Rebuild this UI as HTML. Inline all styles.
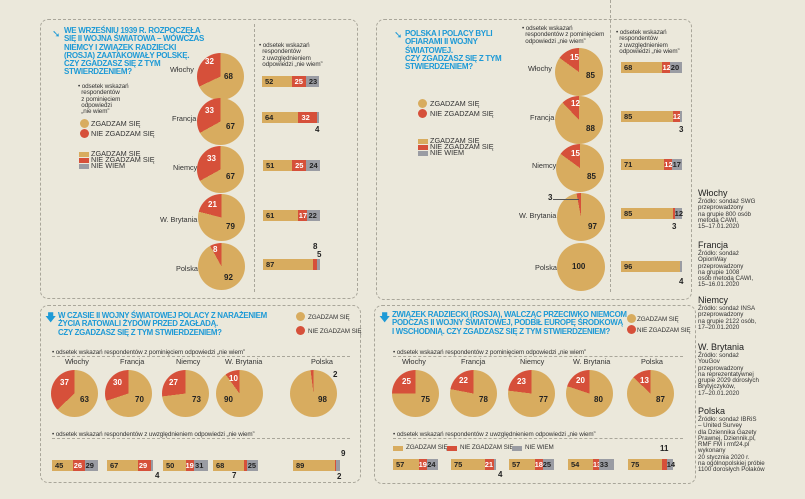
<!DOCTYPE html>
<html><head><meta charset="utf-8"><style>
body{margin:0;width:805px;height:499px;background:#ebe8db;position:relative;overflow:hidden;font-family:"Liberation Sans",sans-serif;color:#222}
.p{position:absolute;border:1px dashed #a9a69a;border-radius:8px}
.a{position:absolute;white-space:nowrap}
.t{position:absolute;color:#1e9ad6;font-weight:bold;font-size:8px;letter-spacing:-0.3px;line-height:8.3px}
.pie{position:absolute;border-radius:50%;background:conic-gradient(#d8ac5f 0 calc(100% - var(--r)),#d6503a 0)}
.w{color:#fff;font-weight:bold;font-size:8px}
.k{font-weight:bold;font-size:8px}
.s{font-size:6.3px;line-height:6.3px;color:#333;letter-spacing:-0.1px}
.c{font-size:7.3px;color:#333}
.bar{position:absolute;display:flex;height:11px;font-weight:bold;font-size:7.5px;line-height:11px}
.bar div{padding-left:3px;box-sizing:border-box;white-space:nowrap}
.g{background:#d8ac5f}.r{background:#d6503a;color:#fff}.y{background:#9a9ca3}
.dot{position:absolute;width:9px;height:9px;border-radius:50%}
.sq{position:absolute;width:10px;height:5px}
.src{position:absolute;left:698px;font-size:6.2px;line-height:6.3px;color:#333}
.src b{display:block;font-size:9px;font-weight:normal;line-height:11px;color:#222}
</style></head><body>
<!-- Panel 1 -->
<div class="p" style="left:40px;top:19px;width:316px;height:278px"></div>
<div class="a" style="left:254px;top:24px;height:268px;border-left:1px dashed #a9a69a"></div>
<div class="a" style="left:52px;top:29px;color:#1e9ad6;font-size:10px">➘</div>
<div class="t" style="left:64px;top:27px">WE WRZEŚNIU 1939 R. ROZPOCZĘŁA<br>SIĘ II WOJNA ŚWIATOWA – WÓWCZAS<br>NIEMCY I ZWIĄZEK RADZIECKI<br>(ROSJA) ZAATAKOWAŁY POLSKĘ.<br>CZY ZGADZASZ SIĘ Z TYM<br>STWIERDZENIEM?</div>
<div class="a s" style="left:78px;top:84px">• odsetek wskazań<br>&nbsp;&nbsp;respondentów<br>&nbsp;&nbsp;z pominięciem<br>&nbsp;&nbsp;odpowiedzi<br>&nbsp;&nbsp;„nie wiem”</div>
<div class="dot" style="left:80px;top:119px;background:#d8ac5f"></div><div class="a c" style="left:91px;top:119px">ZGADZAM SIĘ</div>
<div class="dot" style="left:80px;top:129px;background:#d6503a"></div><div class="a c" style="left:91px;top:129px">NIE ZGADZAM SIĘ</div>
<div class="sq" style="left:79px;top:152px;background:#d8ac5f"></div><div class="a c" style="left:91px;top:149px">ZGADZAM SIĘ</div>
<div class="sq" style="left:79px;top:158px;background:#d6503a"></div><div class="a c" style="left:91px;top:155px">NIE ZGADZAM SIĘ</div>
<div class="sq" style="left:79px;top:164px;background:#9a9ca3"></div><div class="a c" style="left:91px;top:161px">NIE WIEM</div>
<div class="a s" style="left:259px;top:43px">• odsetek wskazań<br>&nbsp;&nbsp;respondentów<br>&nbsp;&nbsp;z uwzględnieniem<br>&nbsp;&nbsp;odpowiedzi „nie wiem”</div>
<div class="pie" style="left:197px;top:53px;width:47px;height:47px;--r:32%"></div><div class="a w" style="left:205px;top:57px">32</div><div class="a k" style="left:224px;top:72px">68</div><div class="a c" style="left:170px;top:65px">Włochy</div>
<div class="pie" style="left:197px;top:98px;width:47px;height:47px;--r:33%"></div><div class="a w" style="left:205px;top:106px">33</div><div class="a k" style="left:226px;top:122px">67</div><div class="a c" style="left:172px;top:114px">Francja</div>
<div class="pie" style="left:197px;top:146px;width:47px;height:47px;--r:33%"></div><div class="a w" style="left:207px;top:154px">33</div><div class="a k" style="left:226px;top:172px">67</div><div class="a c" style="left:173px;top:163px">Niemcy</div>
<div class="pie" style="left:198px;top:194px;width:47px;height:47px;--r:21%"></div><div class="a w" style="left:208px;top:200px">21</div><div class="a k" style="left:226px;top:222px">79</div><div class="a c" style="left:160px;top:215px">W. Brytania</div>
<div class="pie" style="left:198px;top:243px;width:47px;height:47px;--r:8%"></div><div class="a w" style="left:213px;top:245px">8</div><div class="a k" style="left:224px;top:273px">92</div><div class="a c" style="left:176px;top:264px">Polska</div>
<div class="bar" style="left:262px;top:76px;width:57px"><div class="g" style="width:52%">52</div><div class="r" style="width:25%">25</div><div class="y" style="width:23%">23</div></div>
<div class="bar" style="left:262px;top:112px;width:57px"><div class="g" style="width:64%">64</div><div class="r" style="width:32%">32</div><div class="y" style="width:4%;padding:0"></div></div><div class="a k" style="left:315px;top:125px">4</div>
<div class="bar" style="left:263px;top:160px;width:57px"><div class="g" style="width:51%">51</div><div class="r" style="width:25%">25</div><div class="y" style="width:24%">24</div></div>
<div class="bar" style="left:263px;top:210px;width:57px"><div class="g" style="width:61%">61</div><div class="r" style="width:17%;padding-left:1px">17</div><div class="y" style="width:22%;padding-left:1px">22</div></div>
<div class="bar" style="left:263px;top:259px;width:57px"><div class="g" style="width:87%">87</div><div class="r" style="width:8%;padding:0"></div><div class="y" style="width:5%;padding:0"></div></div><div class="a k" style="left:313px;top:242px">8</div><div class="a k" style="left:317px;top:250px">5</div>
<!-- Panel 2 -->
<div class="p" style="left:376px;top:19px;width:314px;height:279px"></div>
<div class="a" style="left:610px;top:0px;height:292px;border-left:1px dashed #a9a69a"></div>
<div class="a" style="left:394px;top:30px;color:#1e9ad6;font-size:10px">➘</div>
<div class="t" style="left:405px;top:30px">POLSKA I POLACY BYLI<br>OFIARAMI II WOJNY<br>ŚWIATOWEJ.<br>CZY ZGADZASZ SIĘ Z TYM<br>STWIERDZENIEM?</div>
<div class="a s" style="left:522px;top:26px">• odsetek wskazań<br>&nbsp;&nbsp;respondentów z pominięciem<br>&nbsp;&nbsp;odpowiedzi „nie wiem”</div>
<div class="a s" style="left:616px;top:30px">• odsetek wskazań<br>&nbsp;&nbsp;respondentów<br>&nbsp;&nbsp;z uwzględnieniem<br>&nbsp;&nbsp;odpowiedzi „nie wiem”</div>
<div class="dot" style="left:418px;top:99px;background:#d8ac5f"></div><div class="a c" style="left:430px;top:99px">ZGADZAM SIĘ</div>
<div class="dot" style="left:418px;top:109px;background:#d6503a"></div><div class="a c" style="left:430px;top:109px">NIE ZGADZAM SIĘ</div>
<div class="sq" style="left:418px;top:139px;background:#d8ac5f"></div><div class="a c" style="left:430px;top:136px">ZGADZAM SIĘ</div>
<div class="sq" style="left:418px;top:145px;background:#d6503a"></div><div class="a c" style="left:430px;top:142px">NIE ZGADZAM SIĘ</div>
<div class="sq" style="left:418px;top:151px;background:#9a9ca3"></div><div class="a c" style="left:430px;top:148px">NIE WIEM</div>
<div class="pie" style="left:555px;top:48px;width:48px;height:48px;--r:15%"></div><div class="a w" style="left:570px;top:53px">15</div><div class="a k" style="left:586px;top:71px">85</div><div class="a c" style="left:528px;top:64px">Włochy</div>
<div class="pie" style="left:555px;top:96px;width:48px;height:48px;--r:12%"></div><div class="a w" style="left:571px;top:99px">12</div><div class="a k" style="left:586px;top:124px">88</div><div class="a c" style="left:530px;top:113px">Francja</div>
<div class="pie" style="left:556px;top:144px;width:48px;height:48px;--r:15%"></div><div class="a w" style="left:571px;top:149px">15</div><div class="a k" style="left:587px;top:172px">85</div><div class="a c" style="left:532px;top:161px">Niemcy</div>
<div class="pie" style="left:557px;top:193px;width:48px;height:48px;--r:3%"></div><div class="a k" style="left:548px;top:193px">3</div><div class="a" style="left:553px;top:199px;width:26px;border-top:1px solid #555"></div><div class="a k" style="left:588px;top:222px">97</div><div class="a c" style="left:519px;top:211px">W. Brytania</div>
<div class="pie" style="left:557px;top:243px;width:48px;height:48px;--r:0%"></div><div class="a k" style="left:572px;top:262px">100</div><div class="a c" style="left:535px;top:263px">Polska</div>
<div class="bar" style="left:621px;top:62px;width:61px"><div class="g" style="width:68%">68</div><div class="r" style="width:12%;padding-left:0">12</div><div class="y" style="width:20%;padding-left:1px">20</div></div>
<div class="bar" style="left:621px;top:111px;width:61px"><div class="g" style="width:85%">85</div><div class="r" style="width:12%;padding-left:0">12</div><div class="y" style="width:3%;padding:0"></div></div><div class="a k" style="left:679px;top:125px">3</div>
<div class="bar" style="left:621px;top:159px;width:61px"><div class="g" style="width:71%">71</div><div class="r" style="width:12%;padding-left:0">12</div><div class="y" style="width:17%;padding-left:1px">17</div></div>
<div class="bar" style="left:621px;top:208px;width:61px"><div class="g" style="width:85%">85</div><div class="r" style="width:3%;padding:0"></div><div class="y" style="width:12%;padding-left:0">12</div></div><div class="a k" style="left:672px;top:222px">3</div>
<div class="bar" style="left:621px;top:261px;width:61px"><div class="g" style="width:96%">96</div><div class="y" style="width:4%;padding:0"></div></div><div class="a k" style="left:679px;top:277px">4</div>
<!-- Panel 3 -->
<div class="p" style="left:40px;top:305px;width:319px;height:176px"></div>
<div class="a" style="left:45px;top:309px;color:#1e9ad6;font-size:11px">🡇</div>
<div class="t" style="left:58px;top:312px;font-size:7.9px">W CZASIE II WOJNY ŚWIATOWEJ POLACY Z NARAŻENIEM<br>ŻYCIA RATOWALI ŻYDÓW PRZED ZAGŁADĄ.<br>CZY ZGADZASZ SIĘ Z TYM STWIERDZENIEM?</div>
<div class="dot" style="left:296px;top:312px;background:#d8ac5f"></div><div class="a s" style="left:308px;top:315px">ZGADZAM SIĘ</div>
<div class="dot" style="left:296px;top:326px;background:#d6503a"></div><div class="a s" style="left:308px;top:329px">NIE ZGADZAM SIĘ</div>
<div class="a s" style="left:52px;top:350px;width:298px;border-bottom:1px dashed #a9a69a">• odsetek wskazań respondentów z pominięciem odpowiedzi „nie wiem”</div>
<div class="a s" style="left:52px;top:432px;width:298px;border-bottom:1px dashed #a9a69a">• odsetek wskazań respondentów z uwzględnieniem odpowiedzi „nie wiem”</div>
<div class="a c" style="left:65px;top:357px">Włochy</div><div class="a c" style="left:120px;top:357px">Francja</div><div class="a c" style="left:176px;top:357px">Niemcy</div><div class="a c" style="left:225px;top:357px">W. Brytania</div><div class="a c" style="left:311px;top:357px">Polska</div>
<div class="pie" style="left:51px;top:370px;width:47px;height:47px;--r:37%"></div><div class="a w" style="left:60px;top:378px">37</div><div class="a k" style="left:80px;top:395px">63</div>
<div class="pie" style="left:105px;top:370px;width:47px;height:47px;--r:30%"></div><div class="a w" style="left:113px;top:378px">30</div><div class="a k" style="left:135px;top:395px">70</div>
<div class="pie" style="left:162px;top:370px;width:47px;height:47px;--r:27%"></div><div class="a w" style="left:169px;top:378px">27</div><div class="a k" style="left:192px;top:395px">73</div>
<div class="pie" style="left:216px;top:370px;width:47px;height:47px;--r:10%"></div><div class="a w" style="left:229px;top:374px">10</div><div class="a k" style="left:224px;top:395px">90</div>
<div class="pie" style="left:290px;top:370px;width:47px;height:47px;--r:2%"></div><div class="a k" style="left:333px;top:370px">2</div><div class="a k" style="left:318px;top:395px">98</div>
<div class="bar" style="left:52px;top:460px;width:46px"><div class="g" style="width:45%">45</div><div class="r" style="width:26%;padding-left:1px">26</div><div class="y" style="width:29%;padding-left:1px">29</div></div>
<div class="bar" style="left:107px;top:460px;width:46px"><div class="g" style="width:67%">67</div><div class="r" style="width:29%;padding-left:1px">29</div><div class="y" style="width:4%;padding:0"></div></div><div class="a k" style="left:155px;top:471px">4</div>
<div class="bar" style="left:163px;top:460px;width:45px"><div class="g" style="width:50%">50</div><div class="r" style="width:19%;padding-left:0">19</div><div class="y" style="width:31%;padding-left:1px">31</div></div>
<div class="bar" style="left:213px;top:460px;width:45px"><div class="g" style="width:68%">68</div><div class="r" style="width:7%;padding:0"></div><div class="y" style="width:25%;padding-left:1px">25</div></div><div class="a k" style="left:232px;top:471px">7</div>
<div class="bar" style="left:293px;top:460px;width:47px"><div class="g" style="width:89%">89</div><div class="r" style="width:2%;padding:0"></div><div class="y" style="width:9%;padding:0"></div></div><div class="a k" style="left:341px;top:449px">9</div><div class="a k" style="left:337px;top:472px">2</div>
<!-- Panel 4 -->
<div class="p" style="left:374px;top:305px;width:320px;height:177px"></div>
<div class="a" style="left:379px;top:309px;color:#1e9ad6;font-size:11px">🡇</div>
<div class="t" style="left:392px;top:311px;font-size:7.9px">ZWIĄZEK RADZIECKI (ROSJA), WALCZĄC PRZECIWKO NIEMCOM<br>PODCZAS II WOJNY ŚWIATOWEJ, PODBIŁ EUROPĘ ŚRODKOWĄ<br>I WSCHODNIĄ. CZY ZGADZASZ SIĘ Z TYM STWIERDZENIEM?</div>
<div class="dot" style="left:627px;top:314px;background:#d8ac5f"></div><div class="a s" style="left:637px;top:317px">ZGADZAM SIĘ</div>
<div class="dot" style="left:627px;top:325px;background:#d6503a"></div><div class="a s" style="left:637px;top:328px">NIE ZGADZAM SIĘ</div>
<div class="a s" style="left:393px;top:350px;width:290px;border-bottom:1px dashed #a9a69a">• odsetek wskazań respondentów z pominięciem odpowiedzi „nie wiem”</div>
<div class="a s" style="left:393px;top:432px;width:290px;border-bottom:1px dashed #a9a69a">• odsetek wskazań respondentów z uwzględnieniem odpowiedzi „nie wiem”</div>
<div class="a c" style="left:402px;top:357px">Włochy</div><div class="a c" style="left:461px;top:357px">Francja</div><div class="a c" style="left:520px;top:357px">Niemcy</div><div class="a c" style="left:573px;top:357px">W. Brytania</div><div class="a c" style="left:641px;top:357px">Polska</div>
<div class="sq" style="left:393px;top:446px;background:#d8ac5f"></div><div class="a s" style="left:406px;top:445px">ZGADZAM SIĘ</div>
<div class="sq" style="left:447px;top:446px;background:#d6503a"></div><div class="a s" style="left:460px;top:445px">NIE ZGADZAM SIĘ</div>
<div class="sq" style="left:512px;top:446px;background:#9a9ca3"></div><div class="a s" style="left:525px;top:445px">NIE WIEM</div>
<div class="pie" style="left:392px;top:370px;width:47px;height:47px;--r:25%"></div><div class="a w" style="left:402px;top:377px">25</div><div class="a k" style="left:421px;top:395px">75</div>
<div class="pie" style="left:450px;top:370px;width:47px;height:47px;--r:22%"></div><div class="a w" style="left:459px;top:376px">22</div><div class="a k" style="left:479px;top:395px">78</div>
<div class="pie" style="left:508px;top:370px;width:47px;height:47px;--r:23%"></div><div class="a w" style="left:517px;top:377px">23</div><div class="a k" style="left:539px;top:395px">77</div>
<div class="pie" style="left:566px;top:370px;width:47px;height:47px;--r:20%"></div><div class="a w" style="left:576px;top:376px">20</div><div class="a k" style="left:594px;top:395px">80</div>
<div class="pie" style="left:627px;top:370px;width:47px;height:47px;--r:13%"></div><div class="a w" style="left:640px;top:376px">13</div><div class="a k" style="left:656px;top:395px">87</div>
<div class="bar" style="left:393px;top:459px;width:45px"><div class="g" style="width:57%">57</div><div class="r" style="width:19%;padding-left:0">19</div><div class="y" style="width:24%;padding-left:0">24</div></div>
<div class="bar" style="left:451px;top:459px;width:45px"><div class="g" style="width:75%">75</div><div class="r" style="width:21%;padding-left:0">21</div><div class="y" style="width:4%;padding:0"></div></div><div class="a k" style="left:498px;top:470px">4</div>
<div class="bar" style="left:509px;top:459px;width:45px"><div class="g" style="width:57%">57</div><div class="r" style="width:18%;padding-left:0">18</div><div class="y" style="width:25%;padding-left:0">25</div></div>
<div class="bar" style="left:568px;top:459px;width:46px"><div class="g" style="width:54%">54</div><div class="r" style="width:13%;padding-left:0">13</div><div class="y" style="width:33%;padding-left:1px">33</div></div>
<div class="bar" style="left:628px;top:459px;width:45px"><div class="g" style="width:75%">75</div><div class="r" style="width:11%;padding:0"></div><div class="y" style="width:14%;padding-left:0">14</div></div><div class="a k" style="left:660px;top:444px">11</div>
<!-- sources -->
<div class="src" style="top:188px"><b>Włochy</b>Źródło: sondaż SWG<br>przeprowadzony<br>na grupie 800 osób<br>metodą CAWI,<br>15–17.01.2020</div>
<div class="src" style="top:240px"><b>Francja</b>Źródło: sondaż<br>OpionWay<br>przeprowadzony<br>na grupie 1008<br>osób metodą CAWI,<br>15–16.01.2020</div>
<div class="src" style="top:295px"><b>Niemcy</b>Źródło: sondaż INSA<br>przeprowadzony<br>na grupie 2122 osób,<br>17–20.01.2020</div>
<div class="src" style="top:342px"><b>W. Brytania</b>Źródło: sondaż<br>YouGov<br>przeprowadzony<br>na reprezentatywnej<br>grupie 2029 dorosłych<br>Brytyjczyków,<br>17–20.01.2020</div>
<div class="src" style="top:406px"><b>Polska</b>Źródło: sondaż IBRiS<br>– United Survey<br>dla Dziennika Gazety<br>Prawnej, Dziennik.pl,<br>RMF FM i rmf24.pl<br>wykonany<br>20 stycznia 2020 r.<br>na ogólnopolskiej próbie<br>1100 dorosłych Polaków</div>
</body></html>
